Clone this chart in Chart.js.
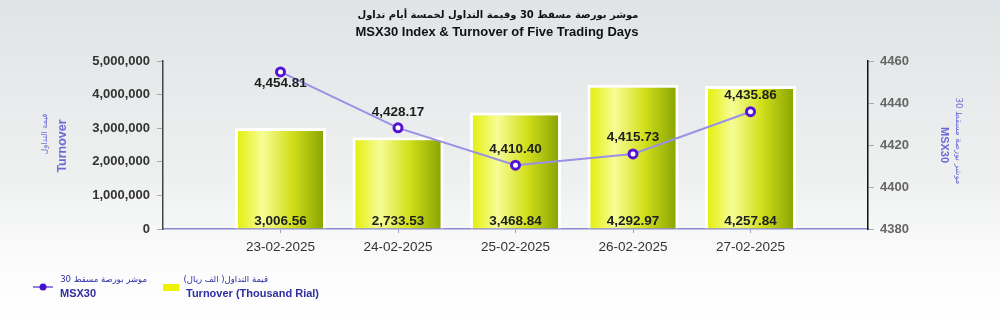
<!DOCTYPE html>
<html>
<head>
<meta charset="utf-8">
<script src="https://cdn.jsdelivr.net/npm/chart.js@4.4.1/dist/chart.umd.min.js"></script>
<style>
  html, body { margin: 0; padding: 0; }
  body { width: 1000px; height: 318px; overflow: hidden;
         background: linear-gradient(#e1e4e6 0%, #eef0f0 55%, #fbfbfb 82%, #ffffff 100%); }
  #wrap { position: relative; width: 1000px; height: 318px; }
</style>
</head>
<body>
<div id="wrap"><canvas id="chart" width="1000" height="318"></canvas></div>
<script>
// data
const tradingDays = ['23-02-2025', '24-02-2025', '25-02-2025', '26-02-2025', '27-02-2025'];
const turnover = [3006.56, 2733.53, 3468.84, 4292.97, 4257.84];   // thousand rial (bar labels)
const msx30 = [4454.81, 4428.17, 4410.40, 4415.73, 4435.86];
const turnoverTicks = [0, 1000000, 2000000, 3000000, 4000000, 5000000];
const msxTicks = [4380, 4400, 4420, 4440, 4460];

const TURNOVER_UNIT = 1000; // bars are plotted against the left axis in rial

const fmt = (v, d) => v.toLocaleString('en-US', { minimumFractionDigits: d, maximumFractionDigits: d });

// one empty slot each side, like the original axis
const xLabels = [''].concat(tradingDays, ['']);
const barData = [null].concat(turnover.map(v => v * TURNOVER_UNIT), [null]);
const lineData = [null].concat(msx30, [null]);

function barGradient(ctx) {
    const chart = ctx.chart;
    const x = chart.scales.x;
    if (!x || ctx.dataIndex === undefined) return '#e6f000';
    const cx = x.getPixelForValue(ctx.dataIndex);
    const w = (x.getPixelForValue(1) - x.getPixelForValue(0)) * 0.775;
    if (!isFinite(cx) || !isFinite(w) || w <= 0) return '#e6f000';
    const g = chart.ctx.createLinearGradient(cx - w / 2, 0, cx + w / 2, 0);
    g.addColorStop(0, '#e2ee00');
    g.addColorStop(0.3, '#f7fd96');
    g.addColorStop(0.62, '#d2e01c');
    g.addColorStop(1, '#85a000');
    return g;
}

const labelsPlugin = {
    id: 'labelsPlugin',
    afterDatasetsDraw(chart) {
        const c = chart.ctx;
        c.save();
        c.fillStyle = '#1e1e1e';
        c.font = 'bold 13.5px "Liberation Sans", Arial, sans-serif';
        c.textAlign = 'center';
        c.textBaseline = 'middle';
        const bars = chart.getDatasetMeta(1).data;
        const pts = chart.getDatasetMeta(0).data;
        const lineOffsets = [11, -16, -16, -17, -16];
        turnover.forEach((v, i) => {
            const b = bars[i + 1];
            c.fillText(fmt(v, 2), b.x, chart.scales.y.getPixelForValue(0) - 8);
        });
        msx30.forEach((v, i) => {
            const p = pts[i + 1];
            c.fillText(fmt(v, 2), p.x, p.y + lineOffsets[i]);
        });
        c.restore();
    },
    afterDraw(chart) {
        const c = chart.ctx;
        c.save();
        // title
        c.fillStyle = '#111';
        c.textAlign = 'center';
        c.textBaseline = 'middle';
        c.direction = 'rtl';
        c.font = 'bold 10px "DejaVu Sans", sans-serif';
        c.fillText('موشر بورصة مسقط 30 وقيمة التداول لخمسة أيام تداول', 498, 15);
        c.direction = 'ltr';
        c.font = 'bold 13px "Liberation Sans", Arial, sans-serif';
        c.fillText('MSX30 Index & Turnover of Five Trading Days', 497, 32);

        // left axis title
        c.fillStyle = '#6c6cd6';
        c.save();
        c.translate(45, 134);
        c.rotate(-Math.PI / 2);
        c.direction = 'rtl';
        c.font = '8px "DejaVu Sans", sans-serif';
        c.fillText('قيمة التداول', 0, 0);
        c.restore();
        c.save();
        c.translate(63, 146);
        c.rotate(-Math.PI / 2);
        c.font = 'bold 12.5px "Liberation Sans", Arial, sans-serif';
        c.fillText('Turnover', 0, 0);
        c.restore();

        // right axis title
        c.save();
        c.translate(958, 141);
        c.rotate(Math.PI / 2);
        c.direction = 'rtl';
        c.font = '8.5px "DejaVu Sans", sans-serif';
        c.fillText('موشر بورصة مسقط 30', 0, 0);
        c.restore();
        c.save();
        c.translate(944, 145);
        c.rotate(Math.PI / 2);
        c.font = 'bold 11px "Liberation Sans", Arial, sans-serif';
        c.fillText('MSX30', 0, 0);
        c.restore();

        // legend
        c.strokeStyle = '#8c82e2';
        c.lineWidth = 2;
        c.beginPath();
        c.moveTo(33, 287);
        c.lineTo(53, 287);
        c.stroke();
        c.fillStyle = '#4a10d0';
        c.beginPath();
        c.arc(43, 287, 3.5, 0, Math.PI * 2);
        c.fill();
        c.fillStyle = '#f0f200';
        c.fillRect(163, 284, 16, 7);

        c.fillStyle = '#2e2ea2';
        c.textAlign = 'left';
        c.direction = 'ltr';
        c.font = '8.5px "DejaVu Sans", sans-serif';
        c.save();
        c.direction = 'rtl';
        c.textAlign = 'right';
        c.fillText('موشر بورصة مسقط 30', 147, 280);
        c.fillText('قيمة التداول( الف ريال)', 268, 280);
        c.restore();
        c.font = 'bold 11px "Liberation Sans", Arial, sans-serif';
        c.fillText('MSX30', 60, 294);
        c.fillText('Turnover (Thousand Rial)', 186, 294);
        c.restore();
    }
};

new Chart(document.getElementById('chart'), {
    data: {
        labels: xLabels,
        datasets: [
            {
                type: 'line',
                label: 'MSX30',
                data: lineData,
                yAxisID: 'y1',
                order: 0,
                borderColor: '#9a90e6',
                borderWidth: 2,
                pointRadius: 4,
                pointBorderWidth: 3,
                pointBorderColor: '#5512d6',
                pointBackgroundColor: '#ffffff',
                tension: 0,
                spanGaps: false
            },
            {
                type: 'bar',
                label: 'Turnover (Thousand Rial)',
                data: barData,
                yAxisID: 'y',
                order: 1,
                backgroundColor: barGradient,
                borderColor: '#ffffff',
                borderWidth: 3,
                categoryPercentage: 1,
                barPercentage: 0.775
            }
        ]
    },
    options: {
        responsive: false,
        animation: false,
        events: [],
        layout: { padding: { top: 61, left: 0, right: 0, bottom: 0 } },
        plugins: { legend: { display: false }, tooltip: { enabled: false }, title: { display: false } },
        scales: {
            x: {
                type: 'category',
                offset: false,
                afterFit(s) { s.height = 89; },
                grid: {
                    offset: false,
                    drawOnChartArea: false,
                    tickLength: 4,
                    tickColor: ctx => (ctx.index === 0 || ctx.index === xLabels.length - 1) ? 'rgba(0,0,0,0)' : '#a0a0c0'
                },
                border: { color: '#8a8ad0', width: 1.5 },
                ticks: {
                    color: '#333',
                    padding: 6,
                    maxRotation: 0,
                    autoSkip: false,
                    font: { family: '"Liberation Sans", Arial, sans-serif', size: 13.5 }
                }
            },
            y: {
                position: 'left',
                min: turnoverTicks[0],
                max: turnoverTicks[turnoverTicks.length - 1],
                afterFit(s) { s.width = 163; },
                afterBuildTicks(s) { s.ticks = turnoverTicks.map(v => ({ value: v })); },
                grid: { drawOnChartArea: false, tickLength: 6, tickColor: '#aaa' },
                border: { color: '#444', width: 1.5 },
                ticks: {
                    color: '#333',
                    padding: 7,
                    font: { family: '"Liberation Sans", Arial, sans-serif', size: 13, weight: 'bold' },
                    callback: v => v.toLocaleString('en-US')
                }
            },
            y1: {
                position: 'right',
                min: msxTicks[0],
                max: msxTicks[msxTicks.length - 1],
                afterFit(s) { s.width = 132; },
                afterBuildTicks(s) { s.ticks = msxTicks.map(v => ({ value: v })); },
                grid: { drawOnChartArea: false, tickLength: 6, tickColor: '#aaa' },
                border: { color: '#111', width: 1.5 },
                ticks: {
                    color: '#666',
                    padding: 6,
                    font: { family: '"Liberation Sans", Arial, sans-serif', size: 13, weight: 'bold' },
                    callback: v => String(v)
                }
            }
        }
    },
    plugins: [labelsPlugin]
});
</script>
</body>
</html>
